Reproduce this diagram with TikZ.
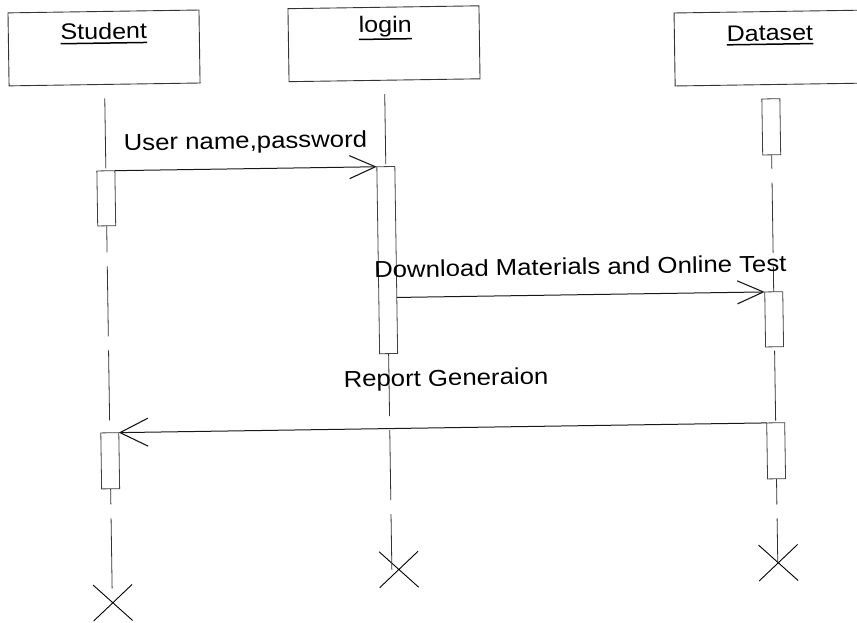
\documentclass[tikz,border=0pt]{standalone}
\usepackage{fontspec}
\setmainfont{Liberation Sans}[FakeStretch=1.12]
\usetikzlibrary{arrows.meta,shapes.misc}
% underlined object name with a heavier rule; optional argument = rule drop below baseline
\newcommand\hdul[2][4.6pt]{\setbox0\hbox{#2}\rlap{\rule[-#1]{\wd0}{1.5pt}}\box0}
\begin{document}
\begin{tikzpicture}[x=1pt,y=-1pt,
  every node/.style={inner sep=0pt, outer sep=0pt},
  headbox/.style={draw=black!80, line width=0.9pt, minimum width=191pt, minimum height=73pt},
  headtext/.style={anchor=base, font=\fontsize{22.4}{27}\selectfont},
  act/.style={draw=black!75, line width=0.8pt, fill=white, minimum width=18pt},
  life/.style={draw=black!80, line width=0.8pt, dash pattern=on 70pt off 14pt, dash phase=70pt},
  msg/.style={draw=black!90, line width=1pt, -{Straight Barb[length=26pt,width=23pt,line width=1.1pt]}},
  bigmsg/.style={msg, -{Straight Barb[length=28pt,width=28pt,line width=1.1pt]}},
  msglabel/.style={anchor=base, font=\fontsize{23}{28}\selectfont},
  endmark/.style={cross out, draw=black, line width=0.9pt, minimum width=39pt, minimum height=36pt}
]
\path[use as bounding box] (0,0) rectangle (857,622);
\clip (0,0) rectangle (857,622);
\begin{scope}[rotate around={0.86:(428,311)}, transform shape]
  % object boxes
  \node[headbox] (student) at (108,43.1) {};
  \node[headbox] (login)   at (388,43.1) {};
  \node[headbox] (dataset) at (774,53.2) {};
  \node[headtext] (studentname) at (108,34.4)   {\hdul{Student}};
  \node[headtext] (loginname)   at (389.5,31.6) {\hdul[7.6pt]{login}};
  \node[headtext] (datasetname) at (774,45.8)   {\hdul[4.3pt]{Dataset}};

  % destruction marks
  \node[endmark] (sx) at (108.5,598) {};
  \node[endmark] (lx) at (395,569) {};
  \node[endmark] (dx) at (774.5,568) {};

  % lifelines
  \draw[life] (student.south) -- (student.south |- sx.center);
  \draw[life] (login.south) -- (login.south |- lx.center);
  \draw[life] (dataset.south) -- (dataset.south |- dx.center);

  % activation bars
  \node[act, minimum height=55pt]  (s1) at (108,193.5) {};
  \node[act, minimum height=187pt] (l1) at (388,259.5) {};
  \node[act, minimum height=56pt]  (d1) at (774,132) {};
  \node[act, minimum height=55pt]  (d2) at (774,324.5) {};
  \node[act, minimum height=56pt]  (d3) at (774,456) {};
  \node[act, minimum height=56pt]  (s3) at (108,456) {};

  % messages
  \draw[msg] (s1.north east) -- (l1.north west);
  \draw[msg] (l1.east |- d2.north) -- (d2.north west);
  \draw[bigmsg] (d3.north west) -- (s3.north east);

  % message labels
  \node[msglabel] (m1label) at (248,146) {User name,password};
  \node[msglabel] (m2label) at (581,277) {Download Materials and Online Test};
  \node[msglabel] (m3label) at (445,386) {Report Generaion};
\end{scope}
\end{tikzpicture}
\end{document}
